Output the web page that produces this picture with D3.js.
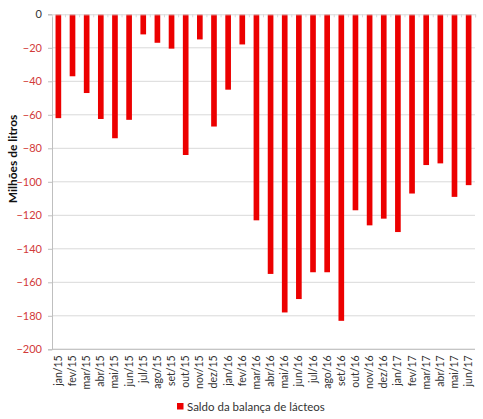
<!DOCTYPE html>
<html>
<head>
<meta charset="utf-8">
<script src="https://cdn.jsdelivr.net/npm/d3@7"></script>
<style>
  body { margin: 0; background: #fff; }
  text { font-family: Lato, "Open Sans", sans-serif; }
</style>
</head>
<body>
<script>
const width = 483
const height = 419
const margin = ({top: 14.3, right: 8, bottom: 69.7, left: 52})

const months = ["jan/15", "fev/15", "mar/15", "abr/15", "mai/15", "jun/15", "jul/15", "ago/15", "set/15", "out/15",
                "nov/15", "dez/15", "jan/16", "fev/16", "mar/16", "abr/16", "mai/16", "jun/16", "jul/16", "ago/16",
                "set/16", "out/16", "nov/16", "dez/16", "jan/17", "fev/17", "mar/17", "abr/17", "mai/17", "jun/17"]
const saldo = [-62, -37, -47, -62.5, -74, -63, -12, -17, -20.5, -84,
               -15, -67, -45, -18, -123, -155, -178, -170, -154, -154,
               -183, -117, -126, -122, -130, -107, -90, -89, -109, -102]
const yTicks = [0, -20, -40, -60, -80, -100, -120, -140, -160, -180, -200]
const seriesName = "Saldo da balança de lácteos"
const yTitle = "Milhões de litros"

const barColor = "#ec0000"
const data = months.map((m, i) => ({month: m, value: saldo[i]}))

const svg = d3.select("body").append("svg").attr("width", width).attr("height", height)

let x = d3.scaleBand()
    .domain(months)
    .range([margin.left, width - margin.right])
    .paddingInner(0.6)
    .paddingOuter(0.25)

let y = d3.scaleLinear()
    .domain([0, -200])
    .range([margin.top, height - margin.bottom])

// gridlines
svg.append("g")
    .selectAll("line")
    .data(yTicks.filter(d => d !== 0))
    .join("line")
      .attr("x1", margin.left)
      .attr("x2", width - margin.right)
      .attr("y1", d => y(d))
      .attr("y2", d => y(d))
      .attr("stroke", "#d9d9d9")
      .attr("stroke-width", 1)

// y axis
let yAxis = g => g
    .attr("transform", `translate(${margin.left},0)`)
    .call(d3.axisLeft(y).tickValues(yTicks).tickSize(4).tickPadding(6))
    .call(g => g.select(".domain").attr("stroke", "#bfbfbf"))
    .call(g => g.selectAll(".tick line").attr("stroke", "#bfbfbf"))
    .call(g => g.selectAll(".tick text")
        .attr("font-size", 11)
        .attr("font-family", "Lato, sans-serif")
        .attr("fill", d => d < 0 ? "#d23a3a" : "#333"))

svg.append("g").call(yAxis)

// bars
svg.append("g")
    .attr("fill", barColor)
  .selectAll("rect")
  .data(data)
  .join("rect")
    .attr("x", d => x(d.month))
    .attr("width", x.bandwidth())
    .attr("y", y(0))
    .attr("height", d => y(d.value) - y(0))

// category axis at zero with tick marks
let xTickAxis = g => g
    .attr("transform", `translate(0,${y(0)})`)
    .call(d3.axisBottom(x).tickSize(3).tickFormat(""))
    .call(g => g.select(".domain").attr("stroke", "#d9d9d9"))
    .call(g => g.selectAll(".tick line")
        .attr("stroke", "#d9d9d9")
        .attr("transform", `translate(${x.step() / 2},0)`))

svg.append("g").call(xTickAxis)

// bottom line + labels
svg.append("line")
    .attr("x1", margin.left)
    .attr("x2", width - margin.right)
    .attr("y1", y(-200))
    .attr("y2", y(-200))
    .attr("stroke", "#bfbfbf")

svg.append("g")
  .selectAll("text")
  .data(months)
  .join("text")
    .attr("transform", d => `translate(${x(d) + x.bandwidth() / 2 + 3.5},${y(-200) + 6}) rotate(-90)`)
    .attr("text-anchor", "end")
    .attr("font-size", 10.5)
    .attr("fill", "#333")
    .text(d => d)

// y title
svg.append("text")
    .attr("transform", `translate(17,159) rotate(-90)`)
    .attr("text-anchor", "middle")
    .attr("font-size", 12)
    .attr("font-weight", "bold")
    .attr("fill", "#111")
    .text(yTitle)

// legend
const legend = svg.append("g").attr("transform", "translate(177,403)")
legend.append("rect")
    .attr("width", 6.5)
    .attr("height", 6.5)
    .attr("fill", barColor)
legend.append("text")
    .attr("x", 10)
    .attr("y", 3.5)
    .attr("dy", "0.35em")
    .attr("font-size", 11.5)
    .attr("fill", "#333")
    .text(seriesName)
</script>
</body>
</html>
